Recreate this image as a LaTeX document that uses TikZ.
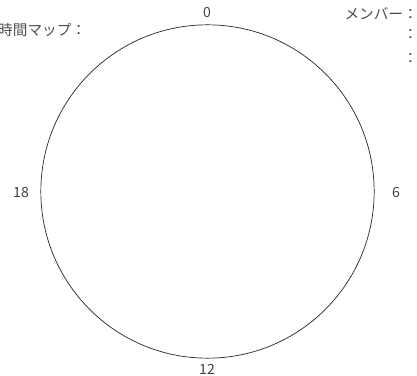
\documentclass[tikz,border=0pt]{standalone}
\usepackage{fontspec}
\setmainfont{Noto Sans CJK JP}
\usetikzlibrary{calc}

\tikzset{
  hourlabel/.style={text=black!75, font=\fontsize{12}{12}\selectfont, inner sep=0pt},
  headlabel/.style={text=black!70, font=\fontsize{12.5}{13}\selectfont, inner sep=0pt}
}

\begin{document}
\begin{tikzpicture}[x=0.03cm, y=-0.03cm]
  \useasboundingbox (0,0) rectangle (417,376);

  % Coordinates
  \coordinate (O) at (207.5, 191.5);

  % Drawing
  \draw[black!85, line width=0.6pt] (O) circle [radius=5.0cm];

  \node[hourlabel] (h0) at (207, 12) {0};
  \node[hourlabel] (h6) at (396, 192) {6};
  \node[hourlabel] (h12) at (207, 369) {12};
  \node[hourlabel] (h18) at (21, 192) {18};

  \node[headlabel, anchor=west] (title) at (-2, 30) {時間マップ：};
  \node[headlabel, anchor=east] (member) at (418, 14) {メンバー：};
  \node[headlabel, anchor=east] (m1) at (418, 34) {：};
  \node[headlabel, anchor=east] (m2) at (418, 58) {：};
\end{tikzpicture}
\end{document}
